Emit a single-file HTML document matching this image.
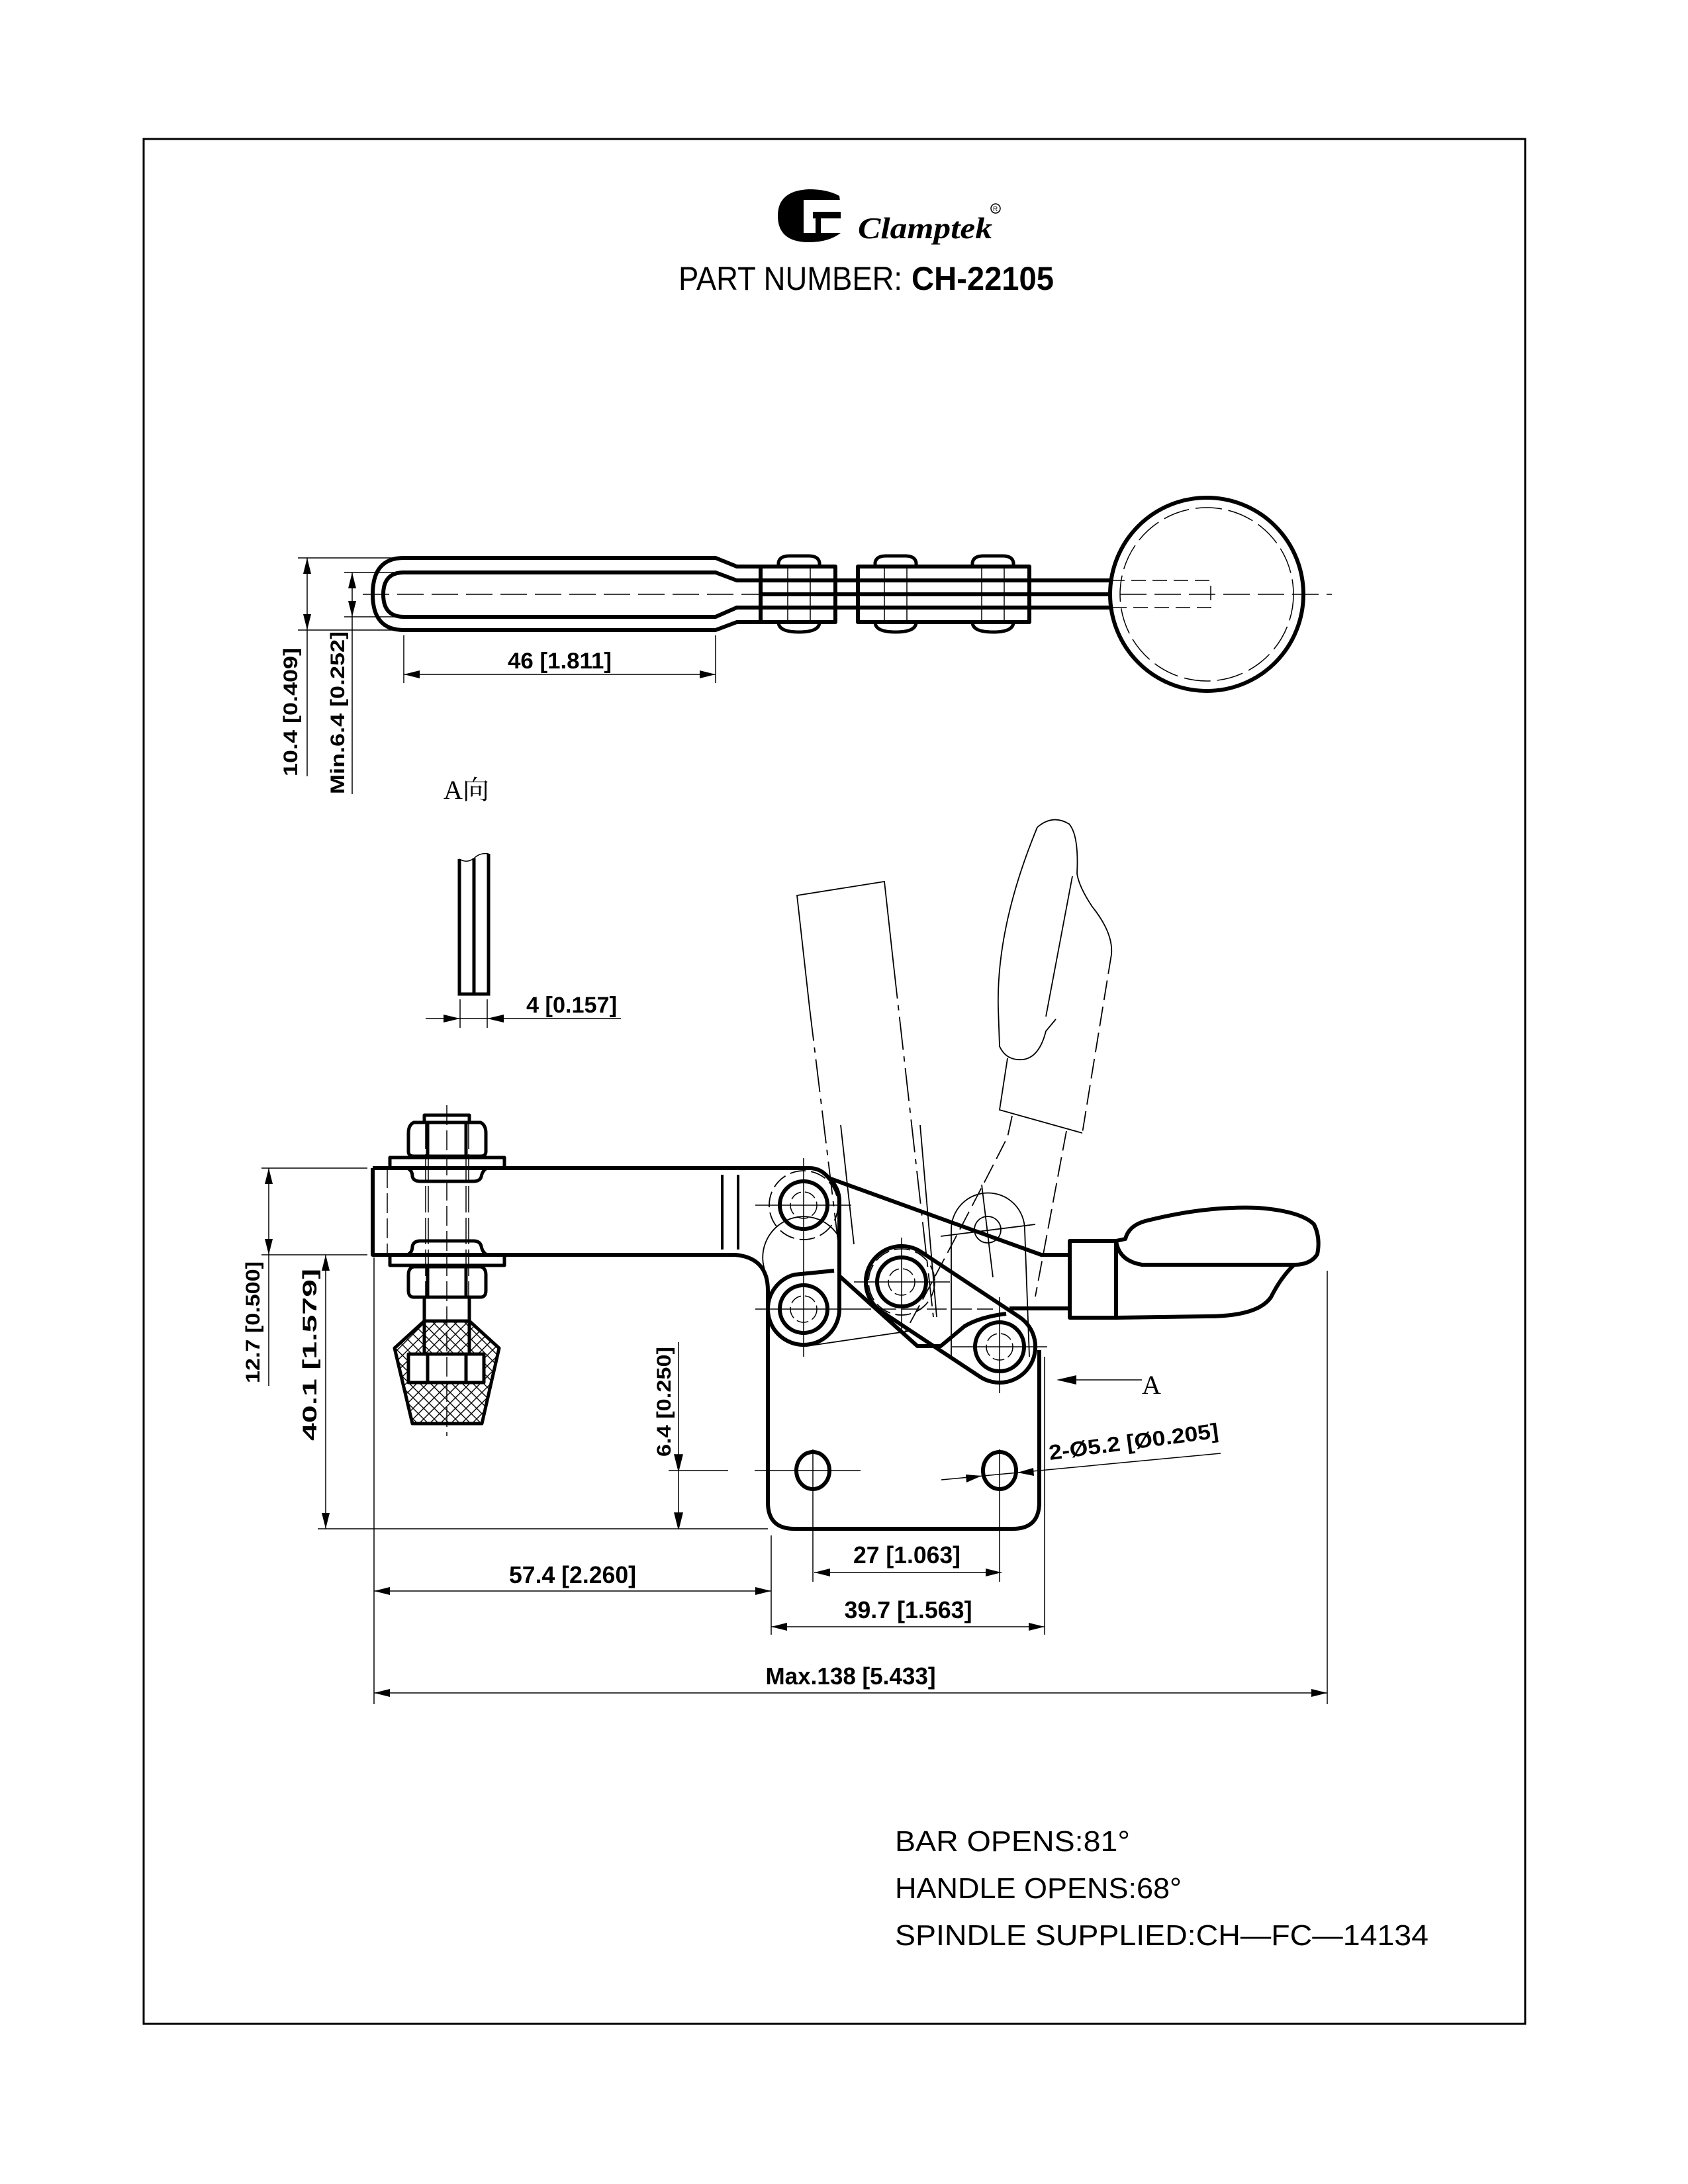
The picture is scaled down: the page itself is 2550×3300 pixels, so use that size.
<!DOCTYPE html>
<html><head><meta charset="utf-8"><style>
html,body{margin:0;padding:0;background:#fff}
svg{display:block}
</style></head><body>
<svg xmlns="http://www.w3.org/2000/svg" width="2550" height="3300" viewBox="0 0 2550 3300" font-family="Liberation Sans, sans-serif">
<defs>
<marker id="ar" markerUnits="userSpaceOnUse" markerWidth="26" markerHeight="12" refX="24" refY="6" orient="auto-start-reverse">
<path d="M0,0 L24,6 L0,12 z" fill="#000"/></marker>
<pattern id="hatch" patternUnits="userSpaceOnUse" width="16" height="16">
<path d="M0,0 L16,16 M16,0 L0,16" stroke="#000" stroke-width="1.4"/></pattern>
</defs>
<rect x="0" y="0" width="2550" height="3300" fill="#fff"/>
<rect x="217" y="210" width="2087" height="2848" fill="none" stroke="#000" stroke-width="3"/>

<!-- logo -->
<path d="M1268,296 Q1250,286 1222,286 Q1175,288 1175,326 Q1175,366 1222,366 Q1252,366 1270,352 L1270,312 Z" fill="#000"/>
<rect x="1214" y="302" width="58" height="18" fill="#fff"/>
<rect x="1214" y="330" width="18" height="22" fill="#fff"/>
<rect x="1240" y="330" width="32" height="22" fill="#fff"/>
<rect x="1214" y="318" width="14" height="16" fill="#fff"/>
<text x="1296" y="360" style="font-family:'Liberation Serif',serif" font-style="italic" font-weight="bold" font-size="46" textLength="203" lengthAdjust="spacingAndGlyphs">Clamptek</text>
<circle cx="1504" cy="315" r="7" fill="none" stroke="#000" stroke-width="1.5"/>
<text x="1500" y="319" font-size="10">R</text>
<text x="1025" y="438" font-size="50" textLength="338" lengthAdjust="spacingAndGlyphs">PART NUMBER:</text>
<text x="1377" y="438" font-size="50" font-weight="bold" textLength="215" lengthAdjust="spacingAndGlyphs">CH-22105</text>

<!-- ===== TOP VIEW ===== -->
<g fill="none" stroke="#000" stroke-width="6" stroke-linejoin="round">
<path d="M610,843 L1081,843 L1113,856 L1149,856 M610,952 L1081,952 L1113,940 L1149,940"/>
<path d="M610,843 Q563,843 563,898 Q563,952 610,952"/>
<path d="M610,865 L1081,865 L1113,877 L1149,877 M610,932 L1081,932 L1113,918 L1149,918"/>
<path d="M610,865 Q579,865 579,898 Q579,932 610,932"/>
<path d="M1149,856 L1262,856 L1262,940 L1149,940 Z"/>
<path d="M1296,856 L1555,856 L1555,940 L1296,940 Z"/>
<path d="M1149,877 L1677,877 M1149,918 L1677,918 M1149,898 L1677,898"/>
<ellipse cx="1823" cy="898" rx="146" ry="146"/>
</g>
<g fill="none" stroke="#000" stroke-width="5">
<path d="M1176,856 L1176,850 Q1178,840 1192,840 L1222,840 Q1236,840 1238,850 L1238,856"/>
<path d="M1176,940 Q1176,955 1207,955 Q1238,955 1238,940"/>
<path d="M1322,856 L1322,850 Q1324,840 1338,840 L1368,840 Q1382,840 1384,850 L1384,856"/>
<path d="M1322,940 Q1322,955 1353,955 Q1384,955 1384,940"/>
<path d="M1469,856 L1469,850 Q1471,840 1485,840 L1515,840 Q1529,840 1531,850 L1531,856"/>
<path d="M1469,940 Q1469,955 1500,955 Q1531,955 1531,940"/>
</g>
<g fill="none" stroke="#000" stroke-width="1.5">
<path d="M1190,856 V940 M1224,856 V940 M1336,856 V940 M1370,856 V940 M1483,856 V940 M1517,856 V940"/>
<line x1="548" y1="898" x2="2012" y2="898" stroke-dasharray="40,12"/>
<circle cx="1823" cy="898" r="131" stroke-dasharray="40,10"/>
<path d="M1677,877 L1829,877 L1829,918 L1677,918" stroke-dasharray="22,10"/>
<line x1="450" y1="843" x2="600" y2="843"/><line x1="450" y1="952" x2="600" y2="952"/>
<line x1="520" y1="865" x2="600" y2="865"/><line x1="520" y1="932" x2="600" y2="932"/>
<line x1="464" y1="843" x2="464" y2="952" marker-start="url(#ar)" marker-end="url(#ar)"/>
<line x1="464" y1="952" x2="464" y2="1173"/>
<line x1="532" y1="865" x2="532" y2="932" marker-start="url(#ar)" marker-end="url(#ar)"/>
<line x1="532" y1="932" x2="532" y2="1200"/>
<line x1="610" y1="960" x2="610" y2="1032"/><line x1="1081" y1="960" x2="1081" y2="1032"/>
<line x1="610" y1="1019" x2="1081" y2="1019" marker-start="url(#ar)" marker-end="url(#ar)"/>
</g>
<text x="767" y="1010" font-size="34" font-weight="bold" textLength="157" lengthAdjust="spacingAndGlyphs">46 [1.811]</text>
<text transform="translate(449,1076) rotate(-90)" font-size="30" font-weight="bold" text-anchor="middle" textLength="194" lengthAdjust="spacingAndGlyphs">10.4 [0.409]</text>
<text transform="translate(520,1077) rotate(-90)" font-size="30" font-weight="bold" text-anchor="middle" textLength="246" lengthAdjust="spacingAndGlyphs">Min.6.4 [0.252]</text>

<!-- ===== A view ===== -->
<text x="670" y="1207" style="font-family:'Liberation Serif','Noto Serif CJK SC',serif" font-size="40">A向</text>
<g fill="none" stroke="#000" stroke-width="5">
<path d="M694,1298 L694,1502 L738,1502 L738,1290 M716,1297 L716,1502"/>
</g>
<path d="M694,1298 Q705,1305 716,1297 Q725,1288 738,1290" fill="none" stroke="#000" stroke-width="1.5"/>
<g stroke="#000" stroke-width="1.5">
<line x1="695" y1="1510" x2="695" y2="1553"/><line x1="736" y1="1510" x2="736" y2="1553"/>
<line x1="643" y1="1539" x2="938" y2="1539"/>
</g>
<path d="M695,1539 L670,1533 L670,1545 Z M736,1539 L761,1533 L761,1545 Z" fill="#000"/>
<text x="795" y="1530" font-size="34" font-weight="bold" textLength="137" lengthAdjust="spacingAndGlyphs">4 [0.157]</text>

<!-- ===== MAIN VIEW ===== -->
<g fill="none" stroke="#000" stroke-width="1.8">
<path d="M1223,1523 L1204,1353 L1336,1332 L1350,1459"/>
<path d="M1223,1523 L1269,1900" stroke-dasharray="50,10,8,10"/>
<path d="M1350,1459 L1410,1990" stroke-dasharray="50,10,8,10"/>
<path d="M1508,1523 Q1505,1400 1567,1250 Q1590,1230 1615,1245 Q1630,1262 1627,1320 Q1630,1340 1650,1370 Q1682,1410 1679,1442"/>
<path d="M1508,1523 L1510,1581 Q1520,1603 1545,1601 Q1570,1598 1580,1558 L1595,1540" />
<path d="M1620,1324 L1580,1536"/>
<path d="M1522,1599 L1510,1677 L1635,1712"/>
<path d="M1679,1442 L1635,1712" stroke-dasharray="30,10"/>
<path d="M1529,1686 L1522,1718 Q1450,1860 1365,2017" stroke-dasharray="30,10"/>
<path d="M1611,1709 L1564,1959" stroke-dasharray="30,10"/>
<path d="M1437,2050 L1437,1858 A55,55 0 0 1 1548,1858 L1555,2050"/>
<circle cx="1492" cy="1858" r="20"/>
<line x1="1421" y1="1868" x2="1564" y2="1850"/>
<line x1="1483" y1="1790" x2="1500" y2="1930"/>
<line x1="1218" y1="2034" x2="1375" y2="2011"/>
<path d="M1160,1930 A54,54 0 0 1 1268,1870" />
<circle cx="1214" cy="1821" r="52" stroke-dasharray="24,8"/>
<circle cx="1362" cy="1937" r="50" stroke-dasharray="24,8"/>
<line x1="1270" y1="1700" x2="1290" y2="1880"/>
<line x1="1390" y1="1700" x2="1415" y2="1990"/>
</g>

<!-- spindle -->
<g fill="none" stroke="#000" stroke-width="5" stroke-linejoin="round">
<path d="M641,1696 L641,1685 L709,1685 L709,1696"/>
<path d="M625,1696 L726,1696 Q734,1700 734,1712 L734,1740 Q734,1747 726,1747 L625,1747 Q617,1747 617,1740 L617,1712 Q617,1700 625,1696 Z"/>
<path d="M646,1696 V1747 M704,1696 V1747"/>
<path d="M589,1765 L589,1749 L762,1749 L762,1765"/>
<path d="M615,1765 Q623,1768 623,1778 Q625,1785 635,1785 L715,1785 Q725,1785 727,1778 Q729,1768 736,1765"/>
<path d="M615,1896 Q623,1893 623,1883 Q625,1875 635,1875 L715,1875 Q725,1875 727,1883 Q729,1893 736,1896"/>
<path d="M589,1896 L589,1912 L762,1912 L762,1896"/>
<path d="M625,1914 L726,1914 Q734,1916 734,1926 L734,1950 Q734,1960 726,1960 L625,1960 Q617,1960 617,1950 L617,1926 Q617,1916 625,1914 Z"/>
<path d="M646,1914 V1960 M704,1914 V1960"/>
<path d="M641,1960 V2046 M709,1960 V2046"/>
<path d="M641,1996 L596,2037 L623,2151 L728,2151 L754,2037 L709,1996 Z" fill="url(#hatch)"/>
<rect x="617" y="2046" width="114" height="43" fill="#fff"/>
<path d="M646,2046 V2089 M704,2046 V2089"/>
</g>
<g fill="none" stroke="#000" stroke-width="1.5">
<line x1="675" y1="1670" x2="675" y2="2170" stroke-dasharray="30,8"/>
<path d="M643,1696 V1960 M647,1696 V1960 M704,1696 V1960 M708,1696 V1960" stroke-dasharray="40,8"/>
<line x1="585" y1="1765" x2="585" y2="1896" stroke-dasharray="30,8"/>
<path d="M595,1765 H760 M595,1896 H760" stroke-dasharray="30,8"/>
</g>

<g fill="none" stroke="#000" stroke-width="6" stroke-linejoin="round">
<path d="M563,1765 L563,1896 L1110,1896 Q1160,1900 1160,1950 L1160,2270 Q1160,2310 1200,2310 L1530,2310 Q1570,2310 1570,2270 L1570,2040"/>
<path d="M563,1765 L1223,1765 Q1240,1765 1252,1780 L1573,1896 L1616,1896"/>
<path d="M1252,1780 Q1268,1795 1268,1815 L1268,1978 A54,54 0 0 1 1160,1978"/>
<path d="M1160,1978 A54,54 0 0 1 1200,1926 L1260,1920"/>
<path d="M1525,1977 L1616,1977"/>
<path d="M1268,1928 L1386,2034 L1421,2034 L1457,2004 Q1480,1990 1520,1985"/>
<path d="M1392,1892 L1540,1990 A54,54 0 0 1 1480,2080 L1332,1982 A54,54 0 0 1 1392,1892 Z"/>
<path d="M1616,1875 L1686,1875 L1686,1991 L1616,1991 Z"/>
<path d="M1686,1875 L1700,1872 Q1705,1852 1730,1845 Q1820,1822 1900,1825 Q1965,1830 1985,1850 Q1995,1870 1990,1895 Q1980,1911 1955,1911 L1725,1911 Q1690,1905 1686,1875"/>
<path d="M1955,1911 Q1935,1930 1920,1960 Q1900,1989 1823,1989 L1686,1991"/>
<circle cx="1214" cy="1821" r="36"/>
<circle cx="1214" cy="1978" r="36"/>
<circle cx="1362" cy="1937" r="37"/>
<circle cx="1510" cy="2035" r="37"/>
<ellipse cx="1228" cy="2222" rx="25" ry="28"/>
<ellipse cx="1510" cy="2222" rx="25" ry="28"/>
<line x1="1091" y1="1775" x2="1091" y2="1888" stroke-width="4"/>
<line x1="1115" y1="1775" x2="1115" y2="1888" stroke-width="4"/>
</g>
<g fill="none" stroke="#000" stroke-width="1.5">
<circle cx="1214" cy="1821" r="20" stroke-dasharray="18,6"/>
<circle cx="1214" cy="1978" r="20" stroke-dasharray="18,6"/>
<circle cx="1362" cy="1937" r="20" stroke-dasharray="18,6"/>
<circle cx="1510" cy="2035" r="20" stroke-dasharray="18,6"/>
<path d="M1141,1821 H1286 M1214,1750 V2050 M1141,1978 H1286 M1290,1937 H1435 M1362,1870 V2010 M1438,2035 H1582 M1510,1960 V2105"/>
<path d="M1286,1978 H1500" stroke-dasharray="30,8"/>
<path d="M1140,2222 H1300 M1228,2190 V2390 M1010,2222 H1100 M1510,2190 V2390"/>
</g>

<g fill="none" stroke="#000" stroke-width="1.5">
<line x1="395" y1="1765" x2="555" y2="1765"/>
<line x1="395" y1="1896" x2="555" y2="1896"/>
<line x1="480" y1="2310" x2="1160" y2="2310"/>
<line x1="406" y1="1765" x2="406" y2="1896" marker-start="url(#ar)" marker-end="url(#ar)"/>
<line x1="406" y1="1896" x2="406" y2="2094"/>
<line x1="492" y1="1896" x2="492" y2="2310" marker-start="url(#ar)" marker-end="url(#ar)"/>
<line x1="1025" y1="2028" x2="1025" y2="2310"/>
<path d="M1025,2222 L1019,2198 L1031,2198 Z M1025,2310 L1019,2286 L1031,2286 Z" fill="#000"/>
<line x1="565" y1="1900" x2="565" y2="2575"/>
<line x1="1165" y1="2320" x2="1165" y2="2470"/>
<line x1="1578" y1="2050" x2="1578" y2="2470"/>
<line x1="2005" y1="1920" x2="2005" y2="2575"/>
<line x1="1230" y1="2376" x2="1513" y2="2376" marker-start="url(#ar)" marker-end="url(#ar)"/>
<line x1="565" y1="2404" x2="1165" y2="2404" marker-start="url(#ar)" marker-end="url(#ar)"/>
<line x1="1165" y1="2458" x2="1578" y2="2458" marker-start="url(#ar)" marker-end="url(#ar)"/>
<line x1="565" y1="2558" x2="2005" y2="2558" marker-start="url(#ar)" marker-end="url(#ar)"/>
<line x1="1422" y1="2236" x2="1844" y2="2196"/>
<line x1="1625" y1="2085" x2="1725" y2="2085"/>
</g>
<path d="M1483,2230 L1459,2228 L1460,2240 Z M1537,2225 L1561,2218 L1562,2230 Z M1596,2085 L1626,2078 L1626,2092 Z" fill="#000"/>
<text x="1725" y="2106" style="font-family:'Liberation Serif',serif" font-size="40">A</text>
<text transform="translate(1586,2206) rotate(-7.5)" font-size="32" font-weight="bold" textLength="258" lengthAdjust="spacingAndGlyphs">2-Ø5.2 [Ø0.205]</text>
<text x="1370" y="2362" font-size="36" font-weight="bold" text-anchor="middle" textLength="162" lengthAdjust="spacingAndGlyphs">27 [1.063]</text>
<text x="865" y="2392" font-size="36" font-weight="bold" text-anchor="middle" textLength="192" lengthAdjust="spacingAndGlyphs">57.4 [2.260]</text>
<text x="1372" y="2445" font-size="36" font-weight="bold" text-anchor="middle" textLength="193" lengthAdjust="spacingAndGlyphs">39.7 [1.563]</text>
<text x="1285" y="2545" font-size="36" font-weight="bold" text-anchor="middle" textLength="257" lengthAdjust="spacingAndGlyphs">Max.138 [5.433]</text>
<text transform="translate(392,1998) rotate(-90)" font-size="30" font-weight="bold" text-anchor="middle" textLength="184" lengthAdjust="spacingAndGlyphs">12.7 [0.500]</text>
<text transform="translate(478,2047) rotate(-90)" font-size="30" font-weight="bold" text-anchor="middle" textLength="260" lengthAdjust="spacingAndGlyphs">40.1 [1.579]</text>
<text transform="translate(1013,2118) rotate(-90)" font-size="30" font-weight="bold" text-anchor="middle" textLength="166" lengthAdjust="spacingAndGlyphs">6.4 [0.250]</text>

<text x="1352" y="2797" font-size="44" textLength="355" lengthAdjust="spacingAndGlyphs">BAR  OPENS:81°</text>
<text x="1352" y="2868" font-size="44" textLength="433" lengthAdjust="spacingAndGlyphs">HANDLE  OPENS:68°</text>
<text x="1352" y="2939" font-size="44" textLength="806" lengthAdjust="spacingAndGlyphs">SPINDLE  SUPPLIED:CH—FC—14134</text>
</svg>
</body></html>
